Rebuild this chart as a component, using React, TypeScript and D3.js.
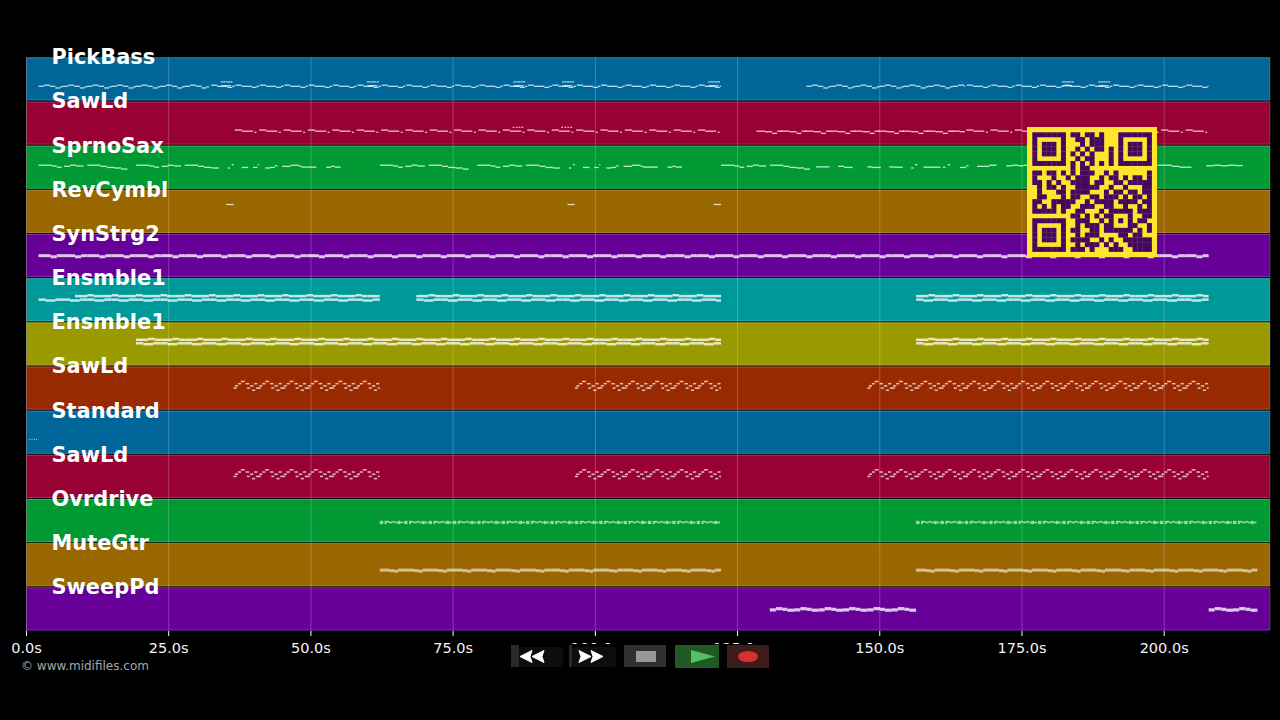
import React from "react";
import * as d3 from "d3";

type Note = [number, number, number]; // start (bars), length (bars), pitch
type Span = [number, number]; // first bar, last bar (exclusive)

const trackNames = ["PickBass","SawLd","SprnoSax","RevCymbl","SynStrg2","Ensmble1","Ensmble1","SawLd","Standard","SawLd","Ovrdrive","MuteGtr","SweepPd"];
const trackColors = ["#006699","#990033","#009933","#996600","#660099","#009999","#999900","#992900","#006699","#990033","#009933","#996600","#660099"];
const tickSeconds = [0,25,50,75,100,125,150,175,200];
const secondsPerBar = 4.2857;
const firstBarSeconds = 2.1;
const endSeconds = 218.6;

// one-bar motifs
const bassBarA: Note[] = [[0,.22,0],[.22,.25,1],[.47,.22,0],[.69,.2,-1.5],[.89,.11,-.5]];
const bassBarB: Note[] = [[.08,.25,1],[.33,.42,0],[.75,.2,-1],[.95,.1,0]];
const bassFlourish: Note[] = [[.48,.08,4],[.58,.08,4],[.68,.08,4],[.78,.08,4],[.88,.08,4],[.5,.4,.5]];
const sawBarA: Note[] = [[.05,.3,1],[.35,.45,0],[.86,.08,-1]];
const sawBarB: Note[] = [[0,.35,0],[.35,.3,-.5],[.65,.2,-2],[.85,.2,0]];
const sawDots: Note[] = [[.45,.07,3.5],[.58,.07,3.5],[.7,.07,3.5],[.82,.07,3.5]];
const padBar: Note[] = [[0,.5,0],[.5,.25,-1],[.75,.25,0]];
const ensUpperBar: Note[] = [[0,.5,0],[.5,.27,.8],[.77,.23,0]];
const ensLowerBar: Note[] = [[0,.3,0],[.3,.4,-.8],[.7,.3,0]];
const arpBar: Note[] = [[0,.13,-2],[.06,.13,0],[.18,.13,2],[.3,.16,4],[.5,.14,2],[.55,.12,-2],[.68,.14,0],[.76,.13,-4],[.85,.13,2],[.92,.1,-2]];
const driveBar: Note[] = [[0,.14,-.5],[0,.14,.9],[.2,.18,.9],[.2,.08,-.5],[.38,.14,.2],[.52,.1,.9],[.62,.08,.2],[.72,.12,-.5],[.72,.12,.9],[.84,.12,.2]];
const muteBar: Note[] = [[0,.4,.5],[.4,.2,0],[.6,.15,-.5],[.75,.25,.5]];
const sweepBar: Note[] = [[0,.25,-.5],[.25,.27,.6],[.52,.2,0],[.72,.28,-.8]];

// melody of the soprano sax, in bars from the first note
const saxPhraseA: Note[] = [[0,.55,1],[.55,.2,.3],[.75,.2,-.8],[1.05,.25,0],[1.3,.25,1],[1.55,.3,.3],[2.0,.55,1],[2.55,.25,0],[2.8,.3,-1],[3.1,.3,-1.5],[3.4,.25,-2.5]];
const saxPhraseB: Note[] = [[4.0,.55,1],[4.55,.2,.3],[4.75,.2,-.8],[5.05,.25,0],[5.3,.25,1],[5.55,.3,.3],[6.0,.55,1],[6.55,.25,0],[6.8,.3,-1],[7.1,.3,-1.5]];
const saxBits: Note[] = [[7.76,.1,-1.5],[7.93,.08,1.5],[8.34,.26,-1],[8.8,.18,-1],[9.0,.05,1.5],[9.3,.2,-1.5],[9.5,.2,-1],[9.7,.1,.5],[10.0,.35,0],[10.35,.35,1],[10.7,.1,0],[10.8,.25,-.7],[11.05,.35,-.7],[11.8,.2,-.8],[12.0,.15,0],[12.15,.25,-.7]];
const saxLateBits: Note[] = [[31.9,.2,-.5],[32.1,.35,-.5],[32.8,.25,0],[33.05,.35,-1],[34.0,.2,-.5],[34.2,.35,-1],[34.9,.2,-.5],[35.1,.35,-.8],[35.8,.1,-1.5],[35.95,.1,1.5],[36.3,.7,-.8],[37.1,.1,-.8],[37.3,.1,1.5],[37.8,.25,-1],[38.05,.1,.5],[38.5,.5,0],[39,.3,1],[39.7,.25,.5],[39.95,.25,1],[40.2,.2,.5],[40.4,.3,1],[45.9,.6,1],[46.5,.3,0],[46.8,.3,-.8],[47.1,.2,-.8],[47.9,.3,.5],[48.2,.3,1],[48.5,.3,.5],[48.8,.3,1],[49.1,.3,.7]];
const cymbalBits: Note[] = [[7.7,.3,0],[21.7,.3,0],[27.7,.3,0]];
const drumDots: Note[] = [[-.39,.04,0],[-.29,.04,0],[-.19,.04,0],[-.1,.04,0]];

// where the motifs repeat, in bars
const bassSpansA: Span[] = [[0,7],[31.5,38]];
const bassSpansB: Span[] = [[7,28],[38,48]];
const bassFlourishBars = [7,13,19,21,27,41.5,43];
const sawSpansA: Span[] = [[8,28],[38,48]];
const sawSpansB: Span[] = [[29.45,38]];
const sawDotBars = [19,21];
const padSpans: Span[] = [[0,48]];
const ens1UpperSpans: Span[] = [[1.5,14],[15.5,28],[36,48]];
const ens1LowerSpans: Span[] = [[0,14],[15.5,28],[36,48]];
const ens2Spans: Span[] = [[4,28],[36,48]];
const arpSpans: Span[] = [[8,14],[22,28],[34,48]];
const rhythmSpans: Span[] = [[14,28],[36,50]];
const sweepSpans: Span[] = [[30,36],[48,50]];
const saxRepeats = [0,14];
const saxThirdPhrase = [28];

const qrRows = [
"1111111011011010001111111",
"1000001001101110001000001",
"1011101000101110001011101",
"1011101001010110101011101",
"1011101010101000101011101",
"1000001001011000101000001",
"1111111010101010101111111",
"0000000010110000000000000",
"1101101010111001010000001",
"1000100101110010110101101",
"1101010011110110011011111",
"0101101001111100100100011",
"0100011011110001011011011",
"0110001011001101110101101",
"1100111110010111101111011",
"1010101100111001100100101",
"1111101001100010111110111",
"0000000011010101100010011",
"1111111001110010101010110",
"1000001001011101100011001",
"1011101011001101111110101",
"1011101001011100001101100",
"1011101011110010100111111",
"1000001001011101010011111",
"1111111011101000111001111",
];

const repeat = (m: Note[], spans: Span[]): Note[] =>
  spans.flatMap(([a, b]) =>
    d3.range(a, b).flatMap((bar) =>
      m.map(([s, l, p]) => [bar + s, Math.min(l, b - bar - s), p] as Note)
    ).filter((n) => n[1] > 0)
  );
const at = (m: Note[], bars: number[]): Note[] => bars.flatMap((bar) => m.map(([s, l, p]) => [bar + s, l, p] as Note));
const shift = (m: Note[], d: number): Note[] => m.map(([s, l, p]) => [s, l, p + d] as Note);

const tracks: { notes: Note[]; base: number; h: number; op: number }[] = [
  { notes: [...repeat(bassBarA, bassSpansA), ...repeat(bassBarB, bassSpansB), ...at(bassFlourish, bassFlourishBars)], base: 29, h: 1.3, op: 0.76 },
  { notes: [...repeat(sawBarA, sawSpansA), ...repeat(sawBarB, sawSpansB), ...at(sawDots, sawDotBars)], base: 29.7, h: 1.3, op: 0.76 },
  { notes: [...at([...saxPhraseA, ...saxPhraseB, ...saxBits], saxRepeats), ...at(saxPhraseA, saxThirdPhrase), ...saxLateBits], base: 20.7, h: 1.3, op: 0.76 },
  { notes: cymbalBits, base: 14.7, h: 1.3, op: 0.76 },
  { notes: repeat(padBar, padSpans), base: 21.7, h: 3, op: 0.78 },
  { notes: [...repeat(shift(ensUpperBar, 3.2), ens1UpperSpans), ...repeat(ensLowerBar, ens1LowerSpans)], base: 21.5, h: 2.5, op: 0.76 },
  { notes: [...repeat(shift(ensUpperBar, 3.2), ens2Spans), ...repeat(ensLowerBar, ens2Spans)], base: 21, h: 2.5, op: 0.76 },
  { notes: repeat(arpBar, arpSpans), base: 19.4, h: 1.5, op: 0.72 },
  { notes: drumDots, base: 28.7, h: 1, op: 0.76 },
  { notes: repeat(arpBar, arpSpans), base: 19.4, h: 1.5, op: 0.72 },
  { notes: repeat(driveBar, rhythmSpans), base: 23.7, h: 1.7, op: 0.62 },
  { notes: repeat(muteBar, rhythmSpans), base: 27.5, h: 3, op: 0.6 },
  { notes: repeat(sweepBar, sweepSpans), base: 22, h: 3.2, op: 0.78 },
];

const W = 1280;
const H = 720;
const x = d3.scaleLinear().domain([0, endSeconds]).range([26.5, 1270]);
const row = d3.scaleBand<number>().domain(d3.range(trackNames.length)).range([57.3, 631.5]).paddingInner(0);
const pitchOffset = d3.scaleLinear().domain([-1, 1]).range([1.1, -1.1]);
const barX = (b: number) => x(firstBarSeconds + b * secondsPerBar);
const FONT = "'DejaVu Sans', sans-serif";
const qrX = d3.scaleBand<number>().domain(d3.range(25)).range([1032.3, 1151.7]);
const qrY = d3.scaleBand<number>().domain(d3.range(25)).range([132.3, 251.7]);

export default function App() {
  const bw = row.bandwidth();
  return (
    <svg width={W} height={H} viewBox={`0 0 ${W} ${H}`} style={{ position: "fixed", left: 0, top: 0, background: "#000", display: "block" }}>
      <rect x={0} y={0} width={W} height={H} fill="#000" />
      {trackNames.map((_, i) => (
        <g key={i}>
          <rect x={x(0)} y={row(i)!} width={1270 - x(0)} height={bw} fill={trackColors[i]} />
          <rect x={x(0)} y={row(i)! + 0.5} width={1270 - x(0)} height={bw - 2} fill="none" stroke="#fff" strokeOpacity={0.2} strokeWidth={1} />
          <rect x={x(0)} y={row(i)! + bw - 1} width={1270 - x(0)} height={1.8} fill="#000" fillOpacity={0.9} />
        </g>
      ))}
      {tickSeconds.map((t) => (
        <g key={t}>
          <line x1={x(t)} x2={x(t)} y1={57} y2={631} stroke="#fff" strokeOpacity={0.22} strokeWidth={1} />
          <line x1={x(t)} x2={x(t)} y1={631} y2={636} stroke="#fff" strokeWidth={1} />
          <text x={x(t)} y={653} textAnchor="middle" fill="#f4f4f4" fontFamily={FONT} fontSize={14.5}>{`${d3.format(".1f")(t)}s`}</text>
        </g>
      ))}
      {tracks.map((tr, i) => (
        <g key={i} fill="#fff" fillOpacity={tr.op}>
          {tr.notes.map(([s, l, p], j) => (
            <rect key={j} x={barX(s)} y={row(i)! + tr.base + pitchOffset(p) - tr.h / 2} width={Math.max(barX(s + l) - barX(s), 1)} height={tr.h} />
          ))}
        </g>
      ))}
      {trackNames.map((name, i) => (
        <text key={i} x={51.5} y={row(i)! + 7} fill="#fff" fontFamily={FONT} fontWeight="bold" fontSize={20.9}>{name}</text>
      ))}
      <rect x={1027} y={127} width={130} height={130} fill="#ffe52e" />
      {qrRows.map((r, ry) =>
        r.split("").map((c, cx) =>
          c === "1" ? <rect key={`${ry}-${cx}`} x={qrX(cx)!} y={qrY(ry)!} width={qrX.bandwidth() + 0.2} height={qrY.bandwidth() + 0.2} fill="#43085f" /> : null
        )
      )}
      <text x={21} y={670} fill="#a8a8a8" fontFamily={FONT} fontSize={12}>© www.midifiles.com</text>
      <g>
        <rect x={511} y={644} width={258} height={25} fill="#000" />
        <rect x={511} y={645} width={8} height={22} fill="#2a2a2a" />
        <rect x={519} y={647} width={44} height={20} rx={2} fill="#0d0d0d" />
        <rect x={569} y={645} width={3} height={22} fill="#2a2a2a" />
        <rect x={572} y={647} width={44} height={20} rx={2} fill="#0d0d0d" />
        <path d="M520,656.5L532,650.5L530,656.5L532,662.5ZM532,656.5L544,650.5L542,656.5L544,662.5Z" fill="#fff" stroke="#fff" />
        <path d="M603,656.5L591,650.5L593,656.5L591,662.5ZM591,656.5L579,650.5L581,656.5L579,662.5Z" fill="#fff" stroke="#fff" />
        <rect x={624} y={645} width={42} height={22} fill="#303030" />
        <rect x={636} y={651} width={20} height={11} fill="#999" />
        <rect x={675} y={645} width={44} height={23} fill="#1f5a26" />
        <path d="M691,650L715,656.5L691,663Z" fill="#55c060" />
        <rect x={727} y={645} width={42} height={23} fill="#3d1c1c" />
        <ellipse cx={748} cy={656.5} rx={10} ry={5.5} fill="#d83030" />
      </g>
    </svg>
  );
}
